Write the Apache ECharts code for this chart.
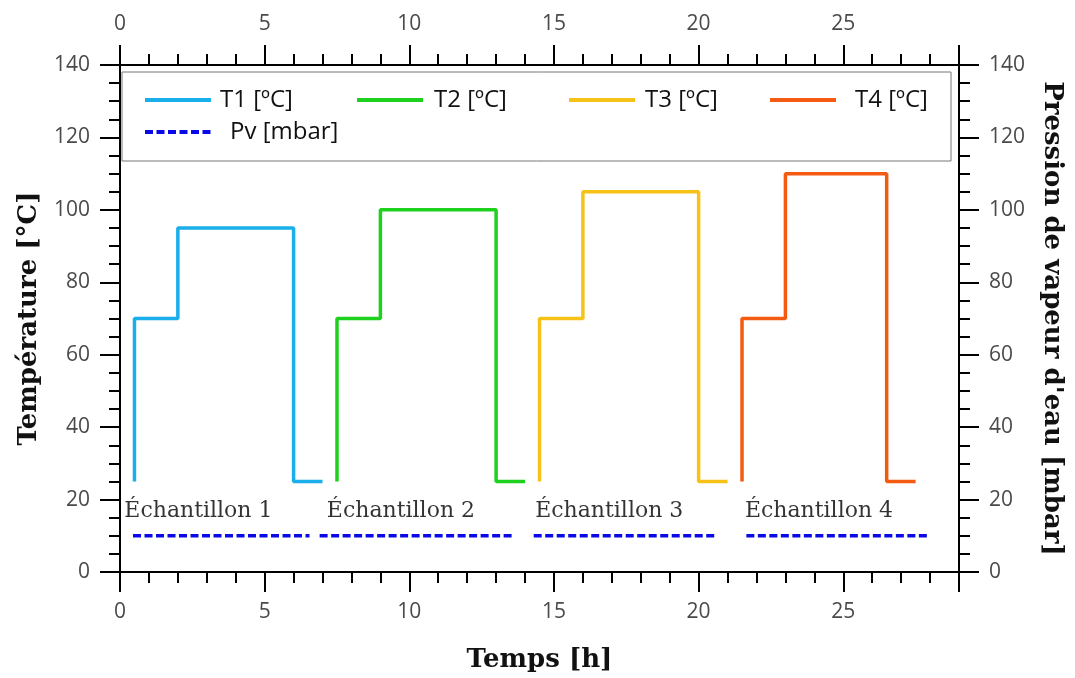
<!DOCTYPE html>
<html>
<head>
<meta charset="utf-8">
<script src="https://cdn.jsdelivr.net/npm/echarts@6/dist/echarts.min.js"></script>
<style>html,body{margin:0;padding:0;background:#fff}#c{width:1075px;height:678px}</style>
</head>
<body>
<div id="c"></div>
<script>
// ---- data ----
const seriesNames = ['T1 [ºC]', 'T2 [ºC]', 'T3 [ºC]', 'T4 [ºC]', 'Pv [mbar]'];
const T1 = [[0.5,25],[0.5,70],[2,70],[2,95],[6,95],[6,25],[7,25]];
const T2 = [[7.5,25],[7.5,70],[9,70],[9,100],[13,100],[13,25],[14,25]];
const T3 = [[14.5,25],[14.5,70],[16,70],[16,105],[20,105],[20,25],[21,25]];
const T4 = [[21.5,25],[21.5,70],[23,70],[23,110],[26.5,110],[26.5,25],[27.5,25]];
const Pv = [[0.45,10],[6.55,10],null,[6.9,10],[13.55,10],null,[14.3,10],[20.55,10],null,[21.65,10],[27.95,10]];
const sampleLabels = ['Échantillon 1','Échantillon 2','Échantillon 3','Échantillon 4'];
const sampleAnchors = [[0.15,16.8],[7.15,16.8],[14.35,16.8],[21.6,16.8]];
const xTicks = [0,5,10,15,20,25];
const yTicks = [0,20,40,60,80,100,120,140];

const colors = ['#1aaeea','#1fd11f','#f7c217','#f55a12','#0a0ae6'];

const chart = echarts.init(document.getElementById('c'));
const tickFont = {fontFamily:'Open Sans', fontSize:21, color:'#4a4a4a'};
const nameFont = {fontFamily:'DejaVu Serif', fontWeight:'bold', fontSize:26, color:'#111'};

function xAxis(pos){
  return {
    type:'value', position:pos, min:0, max:29, interval:5,
    axisLine:{show:true, onZero:false, lineStyle:{color:'#000', width:2}},
    axisTick:{show:true, inside:false, length:20, lineStyle:{color:'#000', width:2}},
    minorTick:{show:true, splitNumber:5, length:11, lineStyle:{color:'#000', width:2}},
    splitLine:{show:false},
    axisLabel:Object.assign({margin:30, formatter:v=>xTicks.includes(v)?String(v):''}, tickFont)
  };
}
function yAxis(pos){
  return {
    type:'value', position:pos, min:0, max:140, interval:20,
    axisLine:{show:true, onZero:false, lineStyle:{color:'#000', width:2}},
    axisTick:{show:true, inside:false, length:20, lineStyle:{color:'#000', width:2}},
    minorTick:{show:true, splitNumber:4, length:11, lineStyle:{color:'#000', width:2}},
    splitLine:{show:false},
    axisLabel:Object.assign({margin:30, formatter:v=>yTicks.includes(v)?String(v):''}, tickFont)
  };
}

const xb = xAxis('bottom');
xb.name = 'Temps [h]'; xb.nameLocation = 'middle'; xb.nameGap = 75; xb.nameTextStyle = nameFont;
const xt = xAxis('top');
const yl = yAxis('left');
yl.name = 'Température [°C]'; yl.nameLocation = 'middle'; yl.nameGap = 78; yl.nameRotate = 90; yl.nameTextStyle = nameFont;
const yr = yAxis('right');
yr.name = "Pression de vapeur d'eau [mbar]"; yr.nameLocation = 'middle'; yr.nameGap = 80; yr.nameRotate = -90; yr.nameTextStyle = nameFont;

function lineSeries(name, data, color, yIdx, dashed){
  return {
    name, type:'line', data, xAxisIndex:0, yAxisIndex:yIdx,
    showSymbol:false, symbol:'none', connectNulls:false, animation:false,
    lineStyle:{color, width:3.5, type: dashed ? [8,3.5] : 'solid'},
    itemStyle:{color}
  };
}

const legendPos = [
  {left:143, top:88, pad:4},
  {left:355, top:88, pad:6},
  {left:567, top:88, pad:5},
  {left:768, top:88, pad:14},
  {left:143, top:120, pad:14}
];
const legends = seriesNames.map((n,i)=>({
  data:[n], left:legendPos[i].left, top:legendPos[i].top, orient:'horizontal', padding:0,
  itemWidth:66, itemHeight:14, selectedMode:false,
  itemStyle:{opacity:0},
  lineStyle:{width:4},
  textStyle:{fontFamily:'Open Sans', fontSize:24, color:'#111', padding:[0,0,0,legendPos[i].pad]}
}));

chart.setOption({
  animation:false,
  backgroundColor:'#fff',
  grid:{left:120, right:116, top:65, bottom:105, containLabel:false},
  xAxis:[xb, xt],
  yAxis:[yl, yr],
  legend:legends,
  graphic:[{type:'rect', shape:{x:122, y:72, width:829, height:89}, style:{fill:'#fff', stroke:'#777', lineWidth:1}, z:1, silent:true}],
  series:[
    lineSeries(seriesNames[0], T1, colors[0], 0, false),
    lineSeries(seriesNames[1], T2, colors[1], 0, false),
    lineSeries(seriesNames[2], T3, colors[2], 0, false),
    lineSeries(seriesNames[3], T4, colors[3], 0, false),
    lineSeries(seriesNames[4], Pv, colors[4], 1, true),
    {
      type:'scatter', xAxisIndex:0, yAxisIndex:0, symbolSize:0, silent:true,
      data: sampleAnchors.map((p,i)=>({value:p, name:sampleLabels[i]})),
      label:{show:true, position:[0,0], align:'left', verticalAlign:'middle',
        formatter:p=>p.name, fontFamily:'DejaVu Serif', fontSize:22, color:'#000'}
    }
  ]
});
</script>
</body>
</html>
